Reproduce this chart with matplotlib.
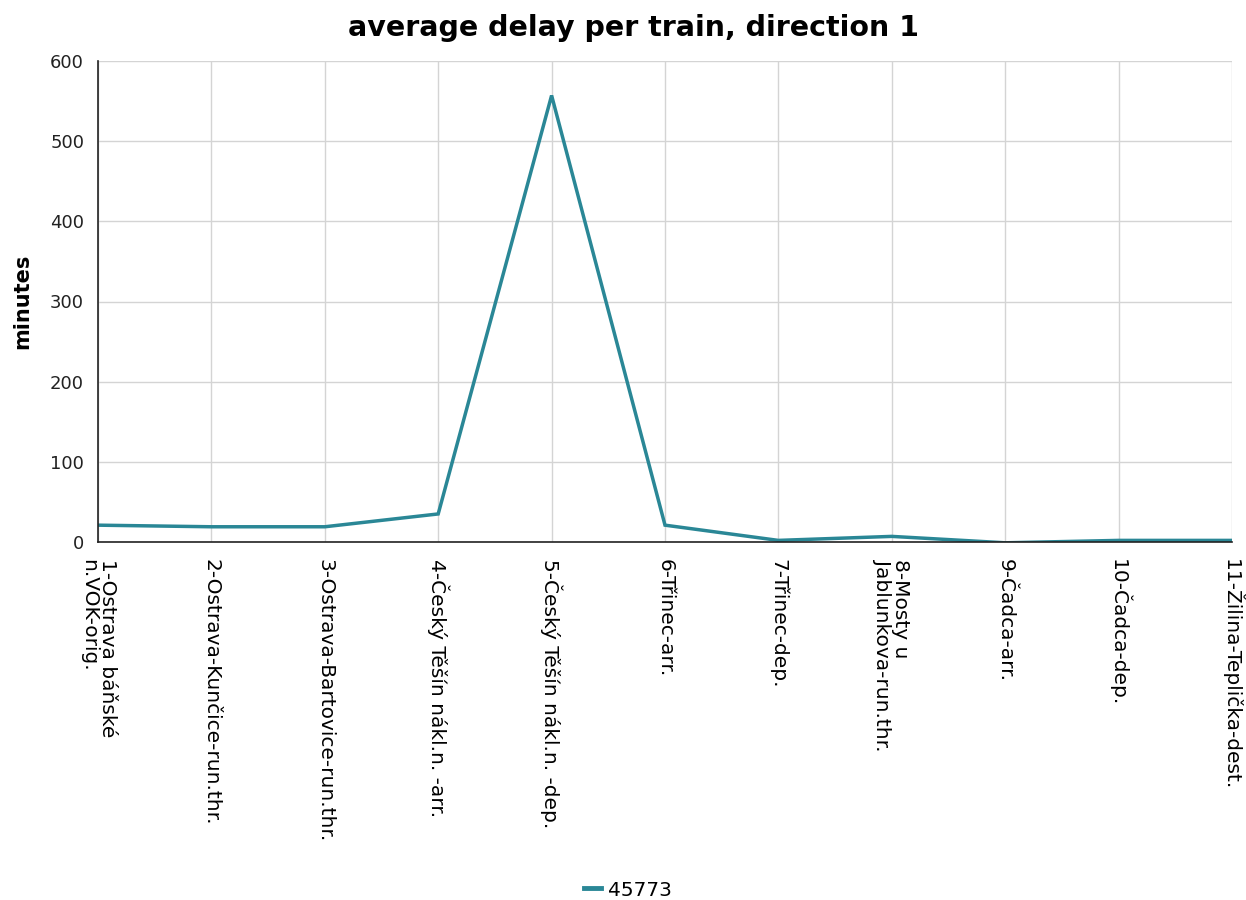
import matplotlib
matplotlib.use("Agg")
import matplotlib.pyplot as plt
from matplotlib.lines import Line2D

plt.rcParams["font.family"] = ["DejaVu Sans"]

categories = [
    "1-Ostrava báňské\nn.VOK-orig.",
    "2-Ostrava-Kunčice-run.thr.",
    "3-Ostrava-Bartovice-run.thr.",
    "4-Český Těšín nákl.n. -arr.",
    "5-Český Těšín nákl.n. -dep.",
    "6-Třinec-arr.",
    "7-Třinec-dep.",
    "8-Mosty u\nJablunkova-run.thr.",
    "9-Čadca-arr.",
    "10-Čadca-dep.",
    "11-Žilina-Teplička-dest.",
]
series_name = "45773"
delays = [21, 19, 19, 35, 557, 21, 2, 7, -1, 2, 2]
yticks = [0, 100, 200, 300, 400, 500, 600]

line_color = "#2a8796"

fig = plt.figure(figsize=(12.46, 9), dpi=100)
ax = fig.add_axes([98 / 1246, 1 - 542 / 900, (1232 - 98) / 1246, (542 - 61) / 900])

x = list(range(len(categories)))
ax.plot(x, delays, color=line_color, linewidth=2.5, solid_joinstyle="miter")

ax.set_xlim(0, len(categories) - 1)
ax.set_ylim(0, 600)
ax.set_yticks(yticks)
ax.set_xticks(x)
ax.set_xticklabels(categories, rotation=270, fontsize=14.5, ha="center", va="top",
                   multialignment="left", linespacing=0.95)
ax.tick_params(axis="y", labelsize=13, length=0, pad=10, colors="#222222")
ax.tick_params(axis="x", length=0, pad=12)
ax.grid(True, color="#d4d4d4", linewidth=1)
ax.set_axisbelow(True)
for s in ["top", "right"]:
    ax.spines[s].set_visible(False)
ax.spines["left"].set_color("#222222")
ax.spines["bottom"].set_color("#222222")
ax.spines["left"].set_linewidth(1.2)
ax.spines["bottom"].set_linewidth(1.2)

ax.set_ylabel("minutes", fontsize=15, fontweight="bold", labelpad=13)
fig.text(633 / 1246, 1 - 28 / 900, "average delay per train, direction 1",
         ha="center", va="center", fontsize=20.5, fontweight="bold")

handle = Line2D([], [], color=line_color, linewidth=3.5)
fig.legend([handle], [series_name], loc="center", bbox_to_anchor=(628 / 1246, 1 - 890 / 900),
           frameon=False, fontsize=14.5, handlelength=0.8, handletextpad=0.35)

fig.savefig("out.png", dpi=100)
